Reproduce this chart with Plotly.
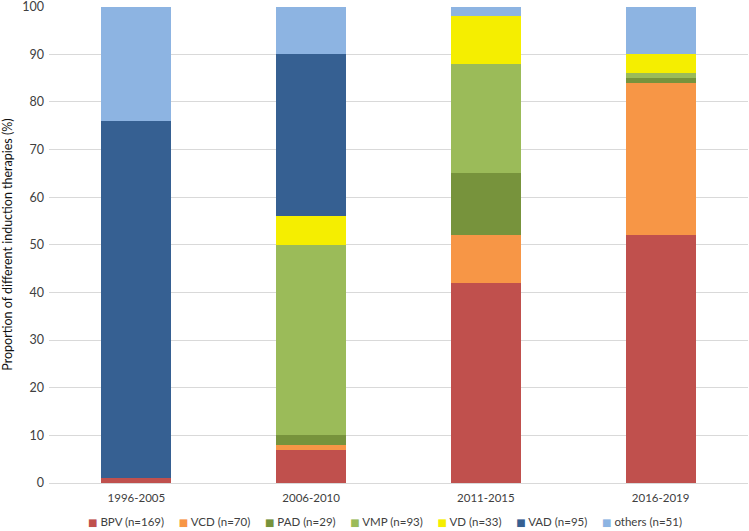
import plotly.graph_objects as go

periods = ["1996-2005", "2006-2010", "2011-2015", "2016-2019"]
BPV = [1, 7, 42, 52]
VCD = [0, 1, 10, 32]
PAD = [0, 2, 13, 1]
VMP = [0, 40, 23, 1]
VD = [0, 6, 10, 4]
VAD = [75, 34, 0, 0]
others = [24, 10, 2, 10]

names = ["BPV (n=169)", "VCD (n=70)", "PAD (n=29)", "VMP (n=93)", "VD (n=33)", "VAD (n=95)", "others (n=51)"]
colors = ["#C0504D", "#F79646", "#77933C", "#9BBB59", "#F5EE00", "#366092", "#8DB4E2"]
values = [BPV, VCD, PAD, VMP, VD, VAD, others]

fig = go.Figure()
for name, vals, col in zip(names, values, colors):
    fig.add_trace(go.Bar(x=periods, y=vals, name=name,
                         marker=dict(color=col, line=dict(width=0))))

# legend drawn as one centred line of text with coloured squares
nb = "\u00a0"
parts = []
for name, col in zip(names, colors):
    parts.append(f'<span style="color:{col};font-family:DejaVu Sans;font-size:10px">■</span>{nb}{name}')
legend_text = (nb * 5).join(parts)

fig.add_annotation(text=legend_text, xref="paper", yref="paper", x=0.481, y=-0.0797,
                   xanchor="center", yanchor="middle", showarrow=False,
                   font=dict(family="Lato, Liberation Sans, sans-serif", size=11.5, color="#404040"))

fig.update_layout(
    barmode="stack",
    bargap=0.6,
    width=749, height=531,
    margin=dict(l=49, r=1, t=6, b=48, autoexpand=False),
    paper_bgcolor="white", plot_bgcolor="white",
    font=dict(family="Lato, Liberation Sans, sans-serif", size=12, color="#404040"),
    showlegend=False,
    yaxis=dict(range=[0, 100.15], tickvals=list(range(0, 101, 10)), showgrid=True,
               gridcolor="#D9D9D9", gridwidth=1, automargin=False,
               zeroline=False, showline=False, ticks="", ticklabelstandoff=4,
               ticklabeloverflow="allow",
               title=dict(text="Proportion of different induction therapies (%)",
                          font=dict(size=12.5, color="#111111"), standoff=8),
               tickfont=dict(size=12.5, color="#404040")),
    xaxis=dict(showline=True, linecolor="#D9D9D9", linewidth=1, ticks="", automargin=False,
               ticklabelstandoff=4, ticklabeloverflow="allow",
               tickfont=dict(size=11.5, color="#404040")),
)
fig.write_html("out.html", config={"displayModeBar": False},
               post_script="document.body.style.margin='0';")
